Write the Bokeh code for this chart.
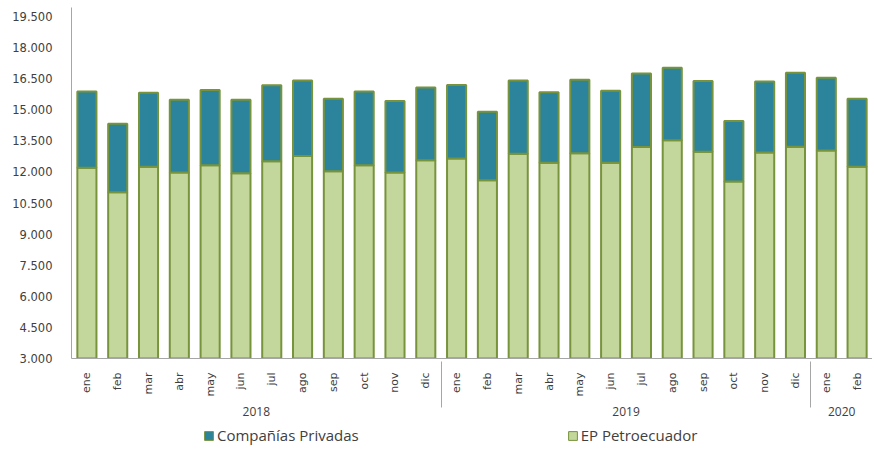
import math
from bokeh.plotting import figure
from bokeh.layouts import column
from bokeh.models import ColumnDataSource, FactorRange, Range1d, Legend, LegendItem, FixedTicker
from bokeh.embed import file_html
from bokeh.resources import INLINE

years = ["2018"] * 12 + ["2019"] * 12 + ["2020"] * 2
months = ["ene", "feb", "mar", "abr", "may", "jun", "jul", "ago", "sep", "oct", "nov", "dic"] * 2 + ["ene", "feb"]
ep_petroecuador = [12200, 11020, 12250, 11980, 12330, 11940, 12520, 12770, 12040, 12330, 11980, 12560,
                   12650, 11600, 12880, 12440, 12900, 12440, 13200, 13530, 12970, 11540, 12940, 13220,
                   13040, 12250]
companias_privadas = [3680, 3310, 3570, 3500, 3630, 3540, 3670, 3640, 3490, 3550, 3450, 3520,
                      3550, 3300, 3530, 3410, 3550, 3480, 3550, 3500, 3420, 2920, 3430, 3570,
                      3510, 3280]
y_ticks = [3000, 4500, 6000, 7500, 9000, 10500, 12000, 13500, 15000, 16500, 18000, 19500]
y_tick_labels = ["3.000", "4.500", "6.000", "7.500", "9.000", "10.500", "12.000", "13.500",
                 "15.000", "16.500", "18.000", "19.500"]
series_names = ["Compañías Privadas", "EP Petroecuador"]

factors = list(zip(years, months))
source = ColumnDataSource(dict(x=factors, ep=ep_petroecuador, priv=companias_privadas))

GREEN = "#c3d69b"
TEAL = "#2b849b"
BORDER = "#77933c"
AXIS = "#a6a6a6"
TXT = "#404040"

p = figure(width=872, height=420, output_backend="svg", toolbar_location=None,
           x_range=FactorRange(*factors, range_padding=0, group_padding=0, factor_padding=0),
           y_range=Range1d(3000, 19936),
           min_border_left=71, min_border_right=0, min_border_top=7, min_border_bottom=62)

r = p.vbar_stack(["ep", "priv"], x="x", width=0.62, source=source,
                 fill_color=[GREEN, TEAL], line_color=BORDER, line_width=2)

p.grid.visible = False
p.outline_line_color = None

ya = p.yaxis[0]
ya.ticker = FixedTicker(ticks=y_ticks)
ya.major_label_overrides = {t: l for t, l in zip(y_ticks, y_tick_labels)}
ya.axis_line_color = AXIS
ya.major_tick_line_color = None
ya.minor_tick_line_color = None
ya.major_tick_out = 0
ya.major_label_standoff = 19
ya.major_label_text_font = "DejaVu Sans"
ya.major_label_text_font_size = "11.5px"
ya.major_label_text_color = TXT

xa = p.xaxis[0]
xa.axis_line_color = AXIS
xa.major_tick_line_color = None
xa.minor_tick_line_color = None
xa.major_label_orientation = math.pi / 2
xa.major_label_standoff = 8
xa.major_label_text_font = "DejaVu Sans"
xa.major_label_text_font_size = "11px"
xa.major_label_text_color = TXT
xa.group_text_font = "Open Sans"
xa.group_text_font_size = "12px"
xa.group_text_font_style = "normal"
xa.group_text_color = TXT
xa.separator_line_color = AXIS
xa.separator_line_width = 1

# legend strip below the chart (its bars lie far outside the strip's visible range)
lg = figure(width=872, height=27, output_backend="svg", toolbar_location=None,
            x_axis_type=None, y_axis_type=None,
            x_range=FactorRange(*factors, range_padding=0, group_padding=0, factor_padding=0),
            y_range=Range1d(100000, 100001),
            min_border_left=0, min_border_right=0, min_border_top=0, min_border_bottom=0)
lg.outline_line_color = None
lg.grid.visible = False
g_priv = lg.vbar(x="x", top="priv", width=0.62, source=source,
                 fill_color=TEAL, line_color=BORDER, line_width=1)
g_ep = lg.vbar(x="x", top="ep", width=0.62, source=source,
               fill_color=GREEN, line_color=BORDER, line_width=1)
legend = Legend(items=[LegendItem(label=series_names[0], renderers=[g_priv]),
                       LegendItem(label=series_names[1], renderers=[g_ep])],
                orientation="horizontal", location=(132, 2), spacing=208,
                glyph_width=11, glyph_height=11, label_standoff=3,
                label_text_font="Open Sans", label_text_font_size="15px", label_text_color=TXT,
                border_line_color=None, background_fill_alpha=0, padding=0, margin=0)
lg.add_layout(legend, "center")

open("out.html", "w").write(file_html(column(p, lg), INLINE))
